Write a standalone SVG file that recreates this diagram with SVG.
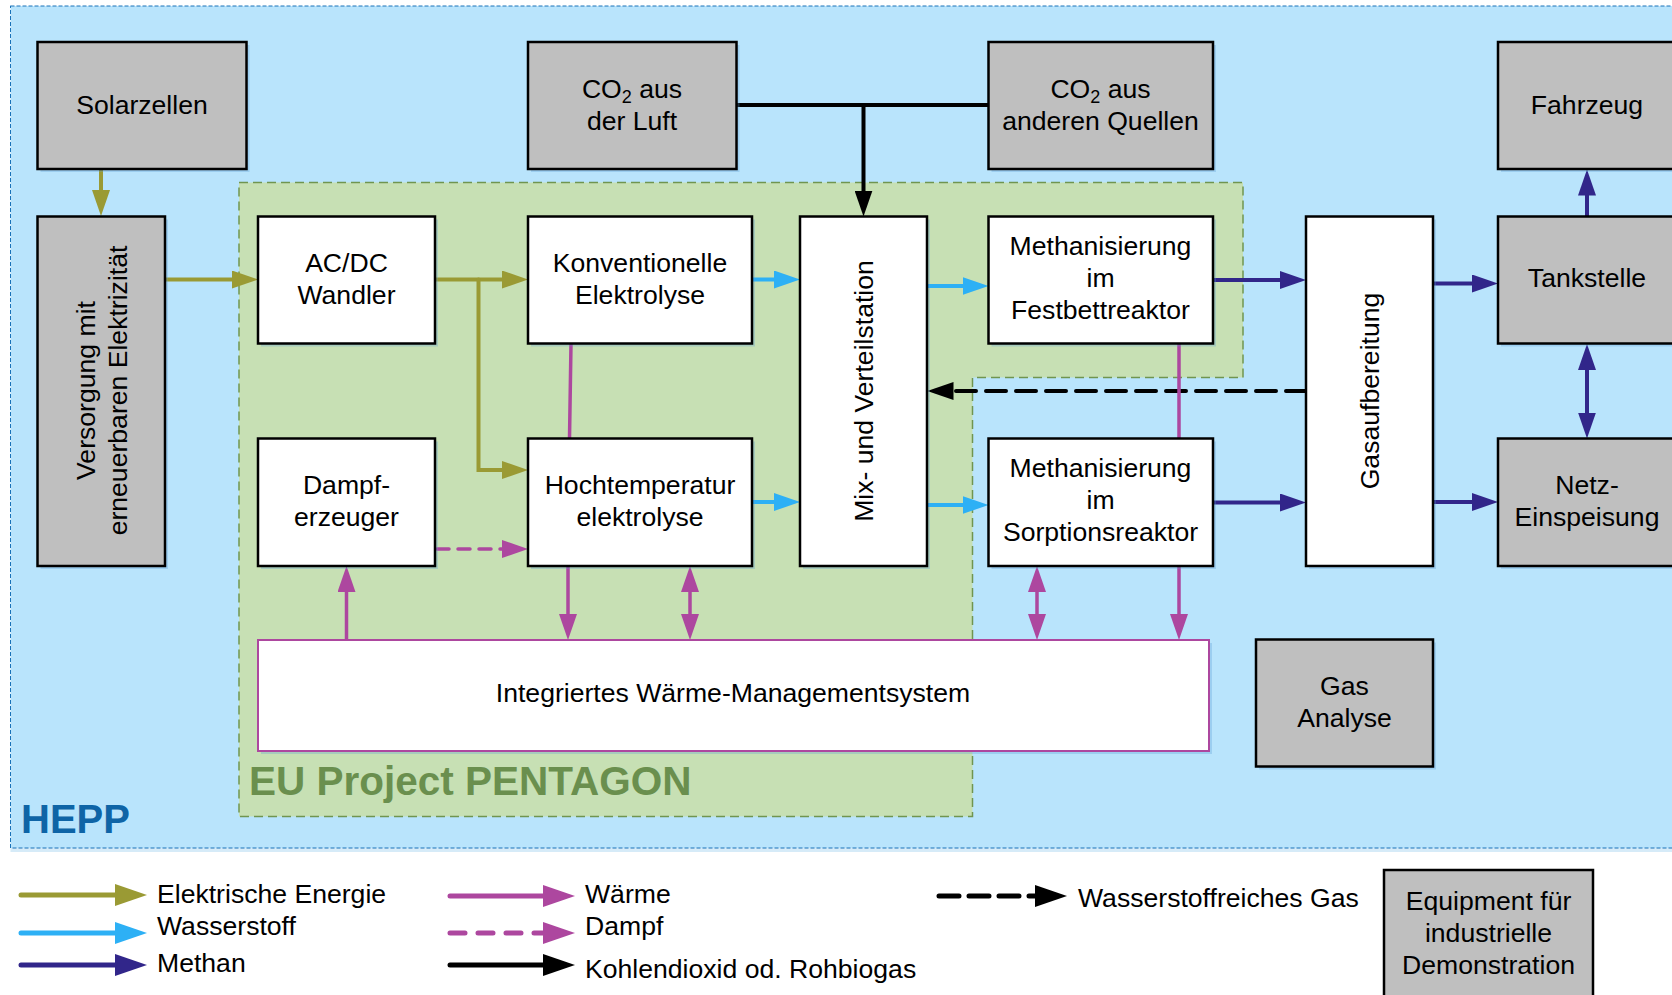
<svg xmlns="http://www.w3.org/2000/svg" width="1672" height="995" viewBox="0 0 1672 995">
<style>
text{font-family:"Liberation Sans",Arial,sans-serif;font-size:26.6px;fill:#000;text-anchor:middle}
.lg{text-anchor:start}
.box{stroke:#000;stroke-width:2.5}
.gray{fill:#bfbfbf}
.white{fill:#fff}
.sh{fill:#5b9bd5;opacity:0.3}
.ln{fill:none;stroke-width:4;stroke-linecap:round}
.ol{stroke:#9a9a34}
.h2{stroke:#2db0f5}
.ch4{stroke:#31268a}
.pk{stroke:#ad479f;stroke-width:3.5}
.bk{stroke:#000}
.lgl{fill:none;stroke-width:5;stroke-linecap:round}
</style>
<defs>
<marker id="a-ol" viewBox="0 0 26 18" refX="16" refY="9" markerWidth="26" markerHeight="18" markerUnits="userSpaceOnUse" orient="auto-start-reverse"><path d="M0,0L26,9L0,18z" fill="#9a9a34"/></marker>
<marker id="a-h2" viewBox="0 0 26 18" refX="16" refY="9" markerWidth="26" markerHeight="18" markerUnits="userSpaceOnUse" orient="auto-start-reverse"><path d="M0,0L26,9L0,18z" fill="#2db0f5"/></marker>
<marker id="a-ch4" viewBox="0 0 26 18" refX="16" refY="9" markerWidth="26" markerHeight="18" markerUnits="userSpaceOnUse" orient="auto-start-reverse"><path d="M0,0L26,9L0,18z" fill="#31268a"/></marker>
<marker id="a-pk" viewBox="0 0 26 18" refX="16" refY="9" markerWidth="26" markerHeight="18" markerUnits="userSpaceOnUse" orient="auto-start-reverse"><path d="M0,0L26,9L0,18z" fill="#ad479f"/></marker>
<marker id="a-bk" viewBox="0 0 26 18" refX="16" refY="9" markerWidth="26" markerHeight="18" markerUnits="userSpaceOnUse" orient="auto-start-reverse"><path d="M0,0L26,9L0,18z" fill="#000"/></marker>
<marker id="l-ol" viewBox="0 0 32 22" refX="22" refY="11" markerWidth="32" markerHeight="22" markerUnits="userSpaceOnUse" orient="auto"><path d="M0,0L32,11L0,22z" fill="#9a9a34"/></marker>
<marker id="l-h2" viewBox="0 0 32 22" refX="22" refY="11" markerWidth="32" markerHeight="22" markerUnits="userSpaceOnUse" orient="auto"><path d="M0,0L32,11L0,22z" fill="#2db0f5"/></marker>
<marker id="l-ch4" viewBox="0 0 32 22" refX="22" refY="11" markerWidth="32" markerHeight="22" markerUnits="userSpaceOnUse" orient="auto"><path d="M0,0L32,11L0,22z" fill="#31268a"/></marker>
<marker id="l-pk" viewBox="0 0 32 22" refX="22" refY="11" markerWidth="32" markerHeight="22" markerUnits="userSpaceOnUse" orient="auto"><path d="M0,0L32,11L0,22z" fill="#ad479f"/></marker>
<marker id="l-bk" viewBox="0 0 32 22" refX="22" refY="11" markerWidth="32" markerHeight="22" markerUnits="userSpaceOnUse" orient="auto"><path d="M0,0L32,11L0,22z" fill="#000"/></marker>
</defs>

<rect width="1672" height="995" fill="#fff"/>

<!-- HEPP area -->
<g id="hepp">
<rect x="10.5" y="848" width="1662" height="4" fill="#d6ebf8"/>
<rect x="10.5" y="6" width="1670" height="842" fill="#b9e4fc" stroke="#1a72b8" stroke-width="1" stroke-dasharray="4 2"/>
<text x="21" y="833" style="font-size:40px;font-weight:bold;fill:#0e64a6;text-anchor:start">HEPP</text>
</g>

<!-- PENTAGON area -->
<g id="pentagon">
<path d="M239,182.5 H1243 V377.5 H972.5 V816.5 H239 Z" fill="#c7e0b4" stroke="#70954f" stroke-width="1.5" stroke-dasharray="9 5"/>
<text x="249" y="795" style="font-size:40.5px;font-weight:bold;fill:#6a8f4e;text-anchor:start">EU Project PENTAGON</text>
</g>

<!-- Connectors -->
<g id="connectors">
<path class="ln ol" d="M101,169.5 V206" marker-end="url(#a-ol)"/>
<path class="ln ol" d="M165,279.5 H248" marker-end="url(#a-ol)"/>
<path class="ln ol" d="M435,279.5 H518" marker-end="url(#a-ol)"/>
<path class="ln ol" d="M478.5,279.5 V470 H518" marker-end="url(#a-ol)"/>
<path class="ln h2" d="M752,279.5 H790" marker-end="url(#a-h2)"/>
<path class="ln h2" d="M927,286 H978.5" marker-end="url(#a-h2)"/>
<path class="ln h2" d="M752,502 H790" marker-end="url(#a-h2)"/>
<path class="ln h2" d="M927,505 H978.5" marker-end="url(#a-h2)"/>
<path class="ln ch4" d="M1213,280 H1296" marker-end="url(#a-ch4)"/>
<path class="ln ch4" d="M1213,502.5 H1296" marker-end="url(#a-ch4)"/>
<path class="ln ch4" d="M1433,283.5 H1488" marker-end="url(#a-ch4)"/>
<path class="ln ch4" d="M1433,502 H1488" marker-end="url(#a-ch4)"/>
<path class="ln ch4" d="M1587,216.5 V179.5" marker-end="url(#a-ch4)"/>
<path class="ln ch4" d="M1587,354 V428.5" marker-start="url(#a-ch4)" marker-end="url(#a-ch4)"/>
<path class="ln bk" d="M1306,391 H937.5" stroke-dasharray="20 10" stroke-linecap="butt" marker-end="url(#a-bk)"/>
<path class="ln bk" d="M736.5,105 H988.5" stroke-linecap="butt"/>
<path class="ln bk" d="M863.5,105 V206.5" stroke-linecap="butt" marker-end="url(#a-bk)"/>
<path class="ln pk" d="M571,343.5 L569.5,438.5"/>
<path class="ln pk" d="M1179,343.5 V438.5"/>
<path class="ln pk" d="M568,566 V630" marker-end="url(#a-pk)"/>
<path class="ln pk" d="M690,576 V630" marker-start="url(#a-pk)" marker-end="url(#a-pk)"/>
<path class="ln pk" d="M1037,576 V630" marker-start="url(#a-pk)" marker-end="url(#a-pk)"/>
<path class="ln pk" d="M1179,566 V630" marker-end="url(#a-pk)"/>
<path class="ln pk" d="M346.5,640 V576" marker-end="url(#a-pk)"/>
<path class="ln pk" d="M437,549 H518" stroke-dasharray="12 9" stroke-linecap="butt" marker-end="url(#a-pk)"/>
</g>

<!-- Nodes -->
<g id="solarzellen">
<rect class="sh" x="40.5" y="45" width="209" height="127"/>
<rect class="box gray" x="37.5" y="42" width="209" height="127"/>
<text x="142" y="114">Solarzellen</text>
</g>
<g id="co2-luft">
<rect class="sh" x="531" y="45" width="208.5" height="127"/>
<rect class="box gray" x="528" y="42" width="208.5" height="127"/>
<text x="632" y="98">CO<tspan font-size="18" dy="5">2</tspan><tspan dy="-5"> aus</tspan></text>
<text x="632" y="130">der Luft</text>
</g>
<g id="co2-andere">
<rect class="sh" x="991.5" y="45" width="224.5" height="127"/>
<rect class="box gray" x="988.5" y="42" width="224.5" height="127"/>
<text x="1100.5" y="98">CO<tspan font-size="18" dy="5">2</tspan><tspan dy="-5"> aus</tspan></text>
<text x="1100.5" y="130">anderen Quellen</text>
</g>
<g id="fahrzeug">
<rect class="sh" x="1501" y="45" width="180" height="127"/>
<rect class="box gray" x="1498" y="42" width="180" height="127"/>
<text x="1587" y="114">Fahrzeug</text>
</g>
<g id="versorgung">
<rect class="sh" x="40.5" y="219.5" width="127.5" height="349.5"/>
<rect class="box gray" x="37.5" y="216.5" width="127.5" height="349.5"/>
<g transform="translate(101,390.5) rotate(-90)">
<text x="0" y="-6.5">Versorgung mit</text>
<text x="0" y="25.5">erneuerbaren Elektrizität</text>
</g>
</g>
<g id="acdc">
<rect class="sh" x="261" y="219.5" width="177" height="127"/>
<rect class="box white" x="258" y="216.5" width="177" height="127"/>
<text x="346.5" y="272">AC/DC</text>
<text x="346.5" y="304">Wandler</text>
</g>
<g id="konv-elektrolyse">
<rect class="sh" x="531" y="219.5" width="224" height="127"/>
<rect class="box white" x="528" y="216.5" width="224" height="127"/>
<text x="640" y="272">Konventionelle</text>
<text x="640" y="304">Elektrolyse</text>
</g>
<g id="mix">
<rect class="sh" x="803" y="219.5" width="127" height="349.5"/>
<rect class="box white" x="800" y="216.5" width="127" height="349.5"/>
<text transform="translate(863.5,391) rotate(-90)" x="0" y="9.5">Mix- und Verteilstation</text>
</g>
<g id="festbett">
<rect class="sh" x="991.5" y="219.5" width="224.5" height="127"/>
<rect class="box white" x="988.5" y="216.5" width="224.5" height="127"/>
<text x="1100.5" y="255">Methanisierung</text>
<text x="1100.5" y="287">im</text>
<text x="1100.5" y="319">Festbettreaktor</text>
</g>
<g id="gasaufbereitung">
<rect class="sh" x="1309" y="219.5" width="127" height="349.5"/>
<rect class="box white" x="1306" y="216.5" width="127" height="349.5"/>
<text transform="translate(1369.5,391) rotate(-90)" x="0" y="9.5">Gasaufbereitung</text>
</g>
<g id="tankstelle">
<rect class="sh" x="1501" y="219.5" width="180" height="127"/>
<rect class="box gray" x="1498" y="216.5" width="180" height="127"/>
<text x="1587" y="287">Tankstelle</text>
</g>
<g id="dampferzeuger">
<rect class="sh" x="261" y="441.5" width="177" height="127.5"/>
<rect class="box white" x="258" y="438.5" width="177" height="127.5"/>
<text x="346.5" y="494">Dampf-</text>
<text x="346.5" y="526">erzeuger</text>
</g>
<g id="hochtemperatur">
<rect class="sh" x="531" y="441.5" width="224" height="127.5"/>
<rect class="box white" x="528" y="438.5" width="224" height="127.5"/>
<text x="640" y="494">Hochtemperatur</text>
<text x="640" y="526">elektrolyse</text>
</g>
<g id="sorption">
<rect class="sh" x="991.5" y="441.5" width="224.5" height="127.5"/>
<rect class="box white" x="988.5" y="438.5" width="224.5" height="127.5"/>
<text x="1100.5" y="477">Methanisierung</text>
<text x="1100.5" y="509">im</text>
<text x="1100.5" y="541">Sorptionsreaktor</text>
</g>
<g id="netz">
<rect class="sh" x="1501" y="441.5" width="180" height="127.5"/>
<rect class="box gray" x="1498" y="438.5" width="180" height="127.5"/>
<text x="1587" y="494">Netz-</text>
<text x="1587" y="526">Einspeisung</text>
</g>
<g id="waerme-management">
<rect class="sh" x="261" y="643" width="951" height="111"/>
<rect x="258" y="640" width="951" height="111" fill="#fff" stroke="#ad479f" stroke-width="2"/>
<text x="733" y="702">Integriertes Wärme-Managementsystem</text>
</g>
<g id="gas-analyse">
<rect class="sh" x="1259" y="642.5" width="177" height="127"/>
<rect class="box gray" x="1256" y="639.5" width="177" height="127"/>
<text x="1344.5" y="695">Gas</text>
<text x="1344.5" y="727">Analyse</text>
</g>
<g id="equipment">
<rect class="box gray" x="1384" y="870" width="209" height="140"/>
<text x="1488.5" y="910">Equipment für</text>
<text x="1488.5" y="942">industrielle</text>
<text x="1488.5" y="974">Demonstration</text>
</g>

<!-- Legend -->
<g id="legend">
<path class="lgl" stroke="#9a9a34" d="M21,895 H137" marker-end="url(#l-ol)"/>
<path class="lgl" stroke="#2db0f5" d="M21,933 H137" marker-end="url(#l-h2)"/>
<path class="lgl" stroke="#31268a" d="M21,965 H137" marker-end="url(#l-ch4)"/>
<path class="lgl" stroke="#ad479f" d="M450,896 H565" marker-end="url(#l-pk)"/>
<path class="lgl" stroke="#ad479f" d="M450,933 H565" stroke-dasharray="15 13" stroke-linecap="butt" marker-end="url(#l-pk)"/>
<path class="lgl" stroke="#000" d="M450,965 H565" marker-end="url(#l-bk)"/>
<path class="lgl" stroke="#000" d="M939,896 H1057" stroke-dasharray="20 10" stroke-linecap="butt" marker-end="url(#l-bk)"/>
<text class="lg" x="157" y="903">Elektrische Energie</text>
<text class="lg" x="157" y="935">Wasserstoff</text>
<text class="lg" x="157" y="972">Methan</text>
<text class="lg" x="585" y="903">Wärme</text>
<text class="lg" x="585" y="935">Dampf</text>
<text class="lg" x="585" y="978">Kohlendioxid od. Rohbiogas</text>
<text class="lg" x="1078" y="907">Wasserstoffreiches Gas</text>
</g>
</svg>
